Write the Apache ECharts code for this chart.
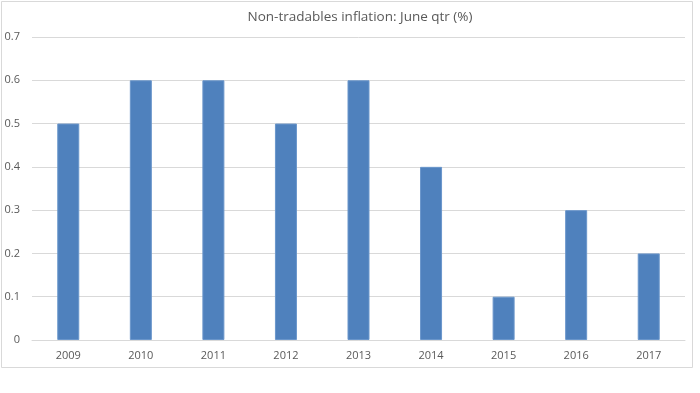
<!DOCTYPE html>
<html>
<head>
<meta charset="utf-8">
<script src="https://cdn.jsdelivr.net/npm/echarts@6/dist/echarts.min.js"></script>
<style>html,body{margin:0;padding:0;background:#fff;}#c{width:700px;height:393px;}</style>
</head>
<body>
<div id="c"></div>
<script>
var categories = ['2009','2010','2011','2012','2013','2014','2015','2016','2017'];
var values = [0.5, 0.6, 0.6, 0.5, 0.6, 0.4, 0.1, 0.3, 0.2];
var yTicks = [0, 0.1, 0.2, 0.3, 0.4, 0.5, 0.6, 0.7];

var chart = echarts.init(document.getElementById('c'), null, {renderer: 'canvas'});
chart.setOption({
  animation: false,
  backgroundColor: '#fff',
  title: {
    text: 'Non-tradables inflation: June qtr (%)',
    left: 355, top: 5, textAlign: 'center',
    textStyle: {color: '#595959', fontSize: 13.5, fontWeight: 'normal', fontFamily: 'Open Sans'}
  },
  graphic: [{
    type: 'rect', shape: {x: 1.5, y: 1.5, width: 691, height: 366},
    style: {fill: 'none', stroke: '#D9D9D9', lineWidth: 1}, silent: true, z: -1
  }],
  grid: {left: 32, right: 15, top: 37, bottom: 53, containLabel: false},
  xAxis: {
    type: 'category', data: categories,
    axisLine: {show: true, lineStyle: {color: '#D9D9D9'}},
    axisTick: {show: false},
    axisLabel: {color: '#595959', fontSize: 11, fontFamily: 'Open Sans', margin: 10}
  },
  yAxis: {
    type: 'value', min: 0, max: 0.7, interval: 0.1,
    axisLine: {show: false}, axisTick: {show: false},
    splitLine: {lineStyle: {color: '#D9D9D9'}},
    axisLabel: {color: '#595959', fontSize: 11, fontFamily: 'Open Sans', margin: 12,
      formatter: function(v){ var r = Math.round(v*10)/10; return yTicks.indexOf(r) >= 0 ? String(r) : ''; }}
  },
  series: [{
    type: 'bar', data: values, barWidth: 22,
    itemStyle: {color: '#4F81BD', borderColor: '#6A96CB', borderWidth: 1}
  }]
});
</script>
</body>
</html>
